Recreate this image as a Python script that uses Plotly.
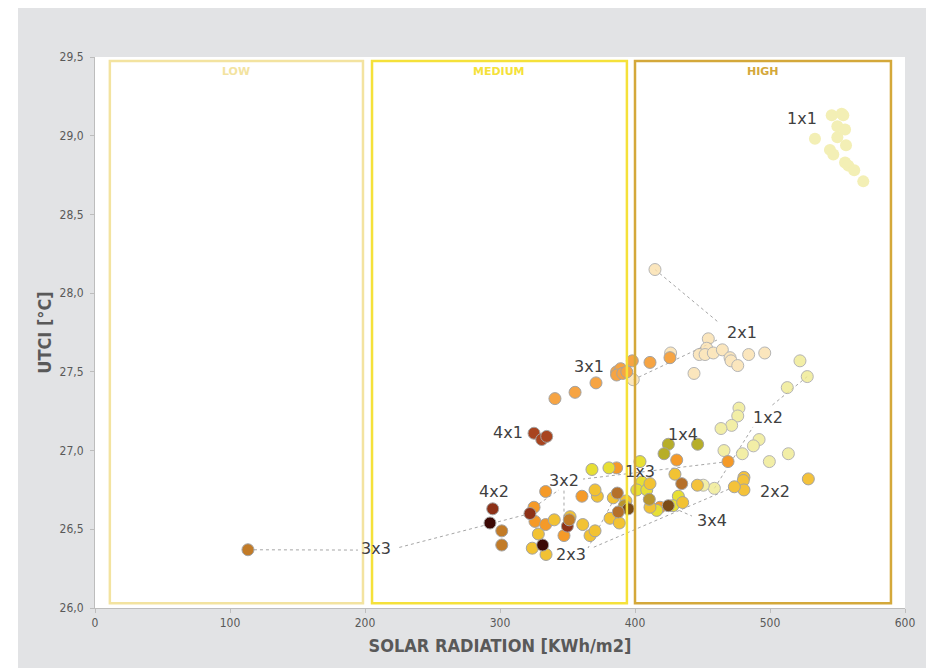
import plotly.graph_objects as go

# ---------------- data: UTCI vs solar radiation per layout ----------------
X_1X1 = [545.7, 553.1, 554.3, 549.9, 555.6, 549.9, 533.3, 556.3, 544.4, 546.9, 555.6, 558.0, 562.4, 569.1]
Y_1X1 = [29.13, 29.14, 29.13, 29.06, 29.04, 28.99, 28.98, 28.94, 28.91, 28.88, 28.83, 28.81, 28.78, 28.71]

X_2X1 = [454.3, 453.1, 447.6, 451.9, 458.0, 464.7, 470.4, 471.1, 476.1, 484.2, 496.1, 443.7, 398.7, 426.4, 414.8]
Y_2X1 = [27.71, 27.65, 27.61, 27.61, 27.62, 27.64, 27.59, 27.57, 27.54, 27.61, 27.62, 27.49, 27.45, 27.62, 28.15]

X_3X1 = [340.7, 355.6, 371.1, 386.4, 389.4, 386.4, 390.9, 393.9, 398.0, 411.1, 425.9]
Y_3X1 = [27.33, 27.37, 27.43, 27.50, 27.52, 27.48, 27.49, 27.50, 27.57, 27.56, 27.59]

X_4X1 = [325.2, 330.9, 334.6]
Y_4X1 = [27.11, 27.07, 27.09]

X_1X2 = [522.2, 527.6, 512.8, 477.0, 476.1, 471.6, 463.7, 491.9, 487.7, 465.9, 479.5, 499.5, 513.6, 458.8, 450.6]
Y_1X2 = [27.57, 27.47, 27.40, 27.27, 27.22, 27.16, 27.14, 27.07, 27.03, 27.00, 26.98, 26.93, 26.98, 26.76, 26.78]

X_2X2 = [528.4, 480.7, 480.2, 480.7, 473.6, 446.2]
Y_2X2 = [26.82, 26.83, 26.81, 26.75, 26.77, 26.78]

X_3X2 = [333.8, 325.2, 325.9, 333.8, 347.4, 360.7, 386.4, 430.9, 418.5, 468.9]
Y_3X2 = [26.74, 26.64, 26.55, 26.53, 26.46, 26.71, 26.89, 26.94, 26.64, 26.93]

X_4X2 = [294.6, 322.2, 349.9]
Y_4X2 = [26.63, 26.60, 26.52]

X_1X3 = [368.1, 380.7, 403.7, 405.0, 401.3, 408.7, 416.1, 432.1, 428.1]
Y_1X3 = [26.88, 26.89, 26.93, 26.80, 26.75, 26.75, 26.62, 26.71, 26.65]

X_2X3 = [323.9, 334.1, 328.4, 340.2, 361.3, 366.7, 370.4, 372.1, 370.4, 383.9, 381.5, 388.4,
         393.3, 411.1, 411.1, 435.3, 429.6, 351.9]
Y_2X3 = [26.38, 26.34, 26.47, 26.56, 26.53, 26.46, 26.49, 26.71, 26.75, 26.70, 26.57, 26.54,
         26.68, 26.79, 26.64, 26.67, 26.85, 26.58]

X_3X3 = [113.3, 301.3, 301.3, 351.3]
Y_3X3 = [26.37, 26.49, 26.40, 26.56]

X_4X3 = [292.6, 331.6]
Y_4X3 = [26.54, 26.40]

X_1X4 = [424.7, 446.4, 421.5]
Y_1X4 = [27.04, 27.04, 26.98]

X_2X4 = [392.1, 410.6]
Y_2X4 = [26.65, 26.69]

X_3X4 = [395.0, 424.7]
Y_3X4 = [26.63, 26.65]

X_4X4 = [386.9, 387.6, 434.6]
Y_4X4 = [26.73, 26.61, 26.79]

# radiation ranges
RANGE_NAMES = ["LOW", "MEDIUM", "HIGH"]
RANGE_X0 = [11.0, 205.2, 400.0]
RANGE_X1 = [198.5, 394.0, 589.6]
RANGE_Y0 = 26.03
RANGE_Y1 = 29.475

# label text positions (x, y) for each layout
LABELS = ["1x1", "2x1", "3x1", "4x1", "1x2", "2x2", "3x2", "4x2", "1x3", "2x3", "3x3", "1x4", "3x4"]
LABEL_X = [523.7, 479.3, 365.9, 305.9, 498.5, 503.7, 347.4, 295.6, 403.7, 352.6, 208.1, 435.6, 457.0]
LABEL_Y = [29.11, 27.747, 27.537, 27.112, 27.213, 26.737, 26.807, 26.743, 26.864, 26.337, 26.381, 27.099, 26.559]

# ---------------- styling ----------------
GRAY_BG = "#e2e3e5"
TXT = "#404040"
AX_TXT = "#595959"
RANGE_COLORS = ["#f3e3a0", "#f5e13a", "#d4a83a"]
EDGE = "#a3a3a3"

# name, x, y, fill, opacity, edge width
series = [
    ("1x1", X_1X1, Y_1X1, "#ece584", 0.6, 0),
    ("2x1", X_2X1, Y_2X1, "#fbe1ad", 0.8, 1),
    ("3x1", X_3X1, Y_3X1, "#f6a443", 1.0, 1),
    ("4x1", X_4X1, Y_4X1, "#a8441f", 1.0, 1),
    ("1x2", X_1X2, Y_1X2, "#f0ea90", 0.8, 1),
    ("2x2", X_2X2, Y_2X2, "#f4c23a", 1.0, 1),
    ("3x2", X_3X2, Y_3X2, "#f59a28", 1.0, 1),
    ("4x2", X_4X2, Y_4X2, "#8d3117", 1.0, 1),
    ("1x3", X_1X3, Y_1X3, "#e7df34", 1.0, 1),
    ("2x3", X_2X3, Y_2X3, "#f2c233", 1.0, 1),
    ("3x3", X_3X3, Y_3X3, "#c27b27", 1.0, 1),
    ("4x3", X_4X3, Y_4X3, "#3c0905", 1.0, 1),
    ("1x4", X_1X4, Y_1X4, "#b7ae29", 1.0, 1),
    ("2x4", X_2X4, Y_2X4, "#b8952e", 1.0, 1),
    ("3x4", X_3X4, Y_3X4, "#7b4b16", 1.0, 1),
    ("4x4", X_4X4, Y_4X4, "#b5702a", 1.0, 1),
]

fig = go.Figure()
for name, xs, ys, col, op, lw in series:
    fig.add_trace(go.Scatter(
        x=xs, y=ys, mode="markers", name=name, opacity=op,
        marker=dict(size=12, color=col, line=dict(color=EDGE, width=lw)),
        hoverinfo="x+y+name",
    ))

shapes = []
# grey frame around the chart (page stays white on the top/left strip)
shapes.append(dict(type="rect", xref="paper", yref="paper", layer="below",
                   x0=(18 - 95) / 810, x1=(926 - 95) / 810,
                   y0=(608 - 668) / 551, y1=(608 - 8) / 551,
                   fillcolor=GRAY_BG, line=dict(width=0)))
shapes.append(dict(type="rect", xref="paper", yref="paper", layer="below",
                   x0=0, x1=1, y0=0, y1=1, fillcolor="white", line=dict(width=0)))

# range boxes
for nm, x0, x1, col in zip(RANGE_NAMES, RANGE_X0, RANGE_X1, RANGE_COLORS):
    shapes.append(dict(type="rect", xref="x", yref="y", layer="above",
                       x0=x0, x1=x1, y0=RANGE_Y0, y1=RANGE_Y1,
                       line=dict(color=col, width=2.5), fillcolor="rgba(0,0,0,0)"))

# leader lines: (source x, source y) -> end next to a label
leaders = [
    (X_2X1[14], Y_2X1[14], 461.5, 27.817),
    (X_2X1[12], Y_2X1[12], 460.7, 27.702),
    (X_1X2[1], Y_1X2[1], 500.0, 27.277),
    (X_1X2[13], Y_1X2[13], 487.4, 27.150),
    (X_3X2[9], Y_3X2[9], 361.5, 26.819),
    (X_3X2[4], Y_3X2[4], 347.4, 26.750),
    (X_3X2[1], Y_3X2[1], 343.7, 26.750),
    (X_4X2[1], Y_4X2[1], 223.7, 26.381),
    (X_3X3[0], Y_3X3[0], 194.8, 26.368),
    (X_2X2[4], Y_2X2[4], 368.1, 26.381),
    (X_4X4[0], Y_4X4[0], 365.2, 26.381),
    (X_3X4[1], Y_3X4[1], 442.2, 26.584),
]
for sx, sy, ex, ey in leaders:
    shapes.append(dict(type="line", xref="x", yref="y", layer="below",
                       x0=sx, y0=sy, x1=ex, y1=ey,
                       line=dict(color="#a6a6a6", width=1, dash="dot")))

annotations = []
for nm, lx, lyv in zip(LABELS, LABEL_X, LABEL_Y):
    annotations.append(dict(x=lx, y=lyv, xref="x", yref="y", text=nm, showarrow=False,
                            font=dict(family="DejaVu Sans", size=16, color=TXT)))
for nm, x0, x1, col in zip(RANGE_NAMES, RANGE_X0, RANGE_X1, RANGE_COLORS):
    annotations.append(dict(x=(x0 + x1) / 2, y=29.405, xref="x", yref="y",
                            text="<b>%s</b>" % nm, showarrow=False,
                            font=dict(family="DejaVu Sans", size=11, color=col)))

fig.update_layout(
    width=926, height=668,
    margin=dict(l=95, r=21, t=57, b=60),
    paper_bgcolor="white", plot_bgcolor="white",
    showlegend=False,
    separators=",.",
    shapes=shapes, annotations=annotations,
    font=dict(family="DejaVu Sans Condensed", color=AX_TXT),
    xaxis=dict(range=[0, 600], dtick=100, showgrid=False, zeroline=False,
               showline=True, linecolor="#bdbdbd", linewidth=1,
               ticks="outside", ticklen=4, tickcolor="#bdbdbd",
               tickfont=dict(family="DejaVu Sans Condensed", size=12, color=AX_TXT),
               title=dict(text="<b>SOLAR RADIATION [KWh/m2]</b>", standoff=9,
                          font=dict(family="DejaVu Sans Condensed", size=18, color=AX_TXT))),
    yaxis=dict(range=[26, 29.5], dtick=0.5, tickformat=".1f", showgrid=False, zeroline=False,
               showline=True, linecolor="#bdbdbd", linewidth=1,
               ticks="outside", ticklen=4, tickcolor="#bdbdbd", ticklabelstandoff=4,
               tickfont=dict(family="DejaVu Sans Condensed", size=12, color=AX_TXT),
               title=dict(text="<b>UTCI [°C]</b>", standoff=3,
                          font=dict(family="DejaVu Sans Condensed", size=18, color=AX_TXT))),
)

fig.write_html("out.html")
